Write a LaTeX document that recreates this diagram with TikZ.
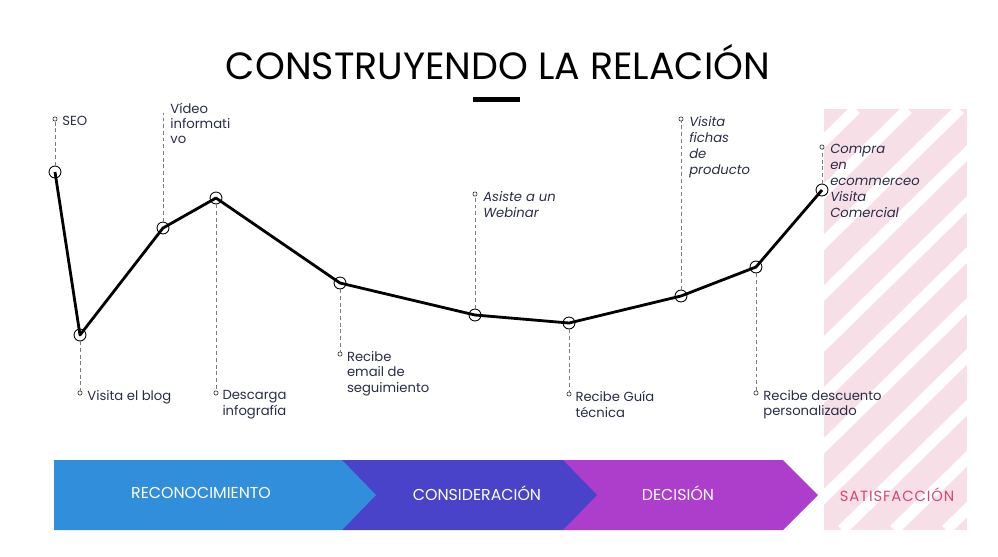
\documentclass[tikz,border=0pt]{standalone}
\usepackage{fontspec}
\setmainfont{Poppins}
\usetikzlibrary{positioning,calc}
\definecolor{Ink}{HTML}{2A2D48}
\definecolor{Dash}{HTML}{7C7C7C}
\definecolor{Reco}{HTML}{318EDB}
\definecolor{Consi}{HTML}{4943C9}
\definecolor{Deci}{HTML}{AD3ECB}
\definecolor{Blush}{HTML}{F6DFE6}
\definecolor{Rose}{HTML}{D4467A}
\tikzset{
  pt/.style={circle,draw=black,line width=.5pt,minimum size=6.8pt,inner sep=0pt},
  tag/.style={circle,draw=black!75,line width=.4pt,minimum size=2.4pt,inner sep=0pt},
  journey/.style={line width=1.6pt,line join=round},
  lead/.style={dashed,draw=Dash,line width=.5pt,dash pattern=on 2.2pt off 1.6pt},
  lab/.style={font=\fontsize{7.5}{8.7}\selectfont,text=Ink,align=left,inner sep=0pt,anchor=north west},
  ilab/.style={lab,font=\fontsize{7.5}{9.1}\selectfont\itshape},
  stage/.style={font=\fontsize{9}{10}\selectfont,text=white}
}

\begin{document}
\begin{tikzpicture}[x=0.02cm,y=-0.02cm]
  \useasboundingbox (0,0) rectangle (998,556);
  % satisfaction band
  \fill[Blush] (824,109) rectangle (967,530);
  \begin{scope}
    \clip (824,109) rectangle (967,530);
    \foreach \c in {374,426,...,1050}
      \draw[white,line width=6.4pt] (\c,530) -- (\c+430,109);
  \end{scope}

  \node[font=\fontsize{21.6}{26}\selectfont] (title) at (498,62) {CONSTRUYENDO LA RELACIÓN};
  \fill[black] (473,97) rectangle (520,102);

  % stages
  \fill[Deci] (563,460) -- (783,460) -- (818,495) -- (783,530) -- (563,530) -- cycle;
  \fill[Consi] (342,460) -- (563,460) -- (597,495) -- (563,530) -- (342,530) -- cycle;
  \fill[Reco] (54,460) -- (342,460) -- (376,495) -- (342,530) -- (54,530) -- cycle;
  \node[stage] (reco) at (201,493) {RECONOCIMIENTO};
  \node[stage] (consi) at (477,493) {CONSIDERACIÓN};
  \node[stage] (deci) at (678,493) {DECISIÓN};
  \node[stage,font=\fontsize{8.4}{10}\selectfont,text=Rose] (sat) at (897,495) {\addfontfeatures{LetterSpace=6}SATISFACCIÓN};

  % touch points
  \node[pt] (p1) at (55,172) {};
  \node[pt] (p2) at (80,335) {};
  \node[pt] (p3) at (163,228) {};
  \node[pt] (p4) at (216,198) {};
  \node[pt] (p5) at (340,283) {};
  \node[pt] (p6) at (475,315) {};
  \node[pt] (p7) at (569,323) {};
  \node[pt] (p8) at (681,296) {};
  \node[pt] (p9) at (756,267) {};
  \node[pt] (p10) at (822,190) {};
  \draw[journey] (p1.center) -- (p2.center) -- (p3.center) -- (p4.center) -- (p5.center)
    -- (p6.center) -- (p7.center) -- (p8.center) -- (p9.center) -- (p10.center);

  \node[tag] (t1) at (55,119) {};
  \node[tag] (t2) at (80,393) {};
  \coordinate (t3) at (163,113);
  \node[tag] (t4) at (216,393) {};
  \node[tag] (t5) at (340,354) {};
  \node[tag] (t6) at (475,194) {};
  \node[tag] (t7) at (569,394) {};
  \node[tag] (t8) at (681,119) {};
  \node[tag] (t9) at (756,393) {};
  \node[tag] (t10) at (822,147) {};
  \foreach \i in {1,2,4,5,6,7,8,9,10}
    \draw[lead] (p\i) -- (t\i);
  \draw[lead] (p3) -- (t3);

  \node[lab] (l1) at ([xshift=4pt,yshift=1.6pt]t1.center) {SEO};
  \node[lab] (l2) at ([xshift=4pt,yshift=1.6pt]t2.center) {Visita el blog};
  \node[lab] (l3) at ([xshift=4pt,yshift=6pt]t3) {Vídeo\\informati\\vo};
  \node[lab] (l4) at ([xshift=3.5pt,yshift=1.6pt]t4.center) {Descarga\\infografía};
  \node[lab] (l5) at ([xshift=3.8pt,yshift=1.6pt]t5.center) {Recibe\\email de\\seguimiento};
  \node[ilab] (l6) at ([xshift=4.5pt,yshift=1.6pt]t6.center) {Asiste a un\\Webinar};
  \node[lab] (l7) at ([xshift=3.5pt,yshift=1.6pt]t7.center) {Recibe Guía\\técnica};
  \node[ilab] (l8) at ([xshift=4.5pt,yshift=1.6pt]t8.center) {Visita\\fichas\\de\\producto};
  \node[lab] (l9) at ([xshift=4pt,yshift=1.6pt]t9.center) {Recibe descuento\\personalizado};
  \node[ilab] (l10) at ([xshift=4.5pt,yshift=1.6pt]t10.center) {Compra\\en\\ecommerceo\\Visita\\Comercial};
\end{tikzpicture}
\end{document}
